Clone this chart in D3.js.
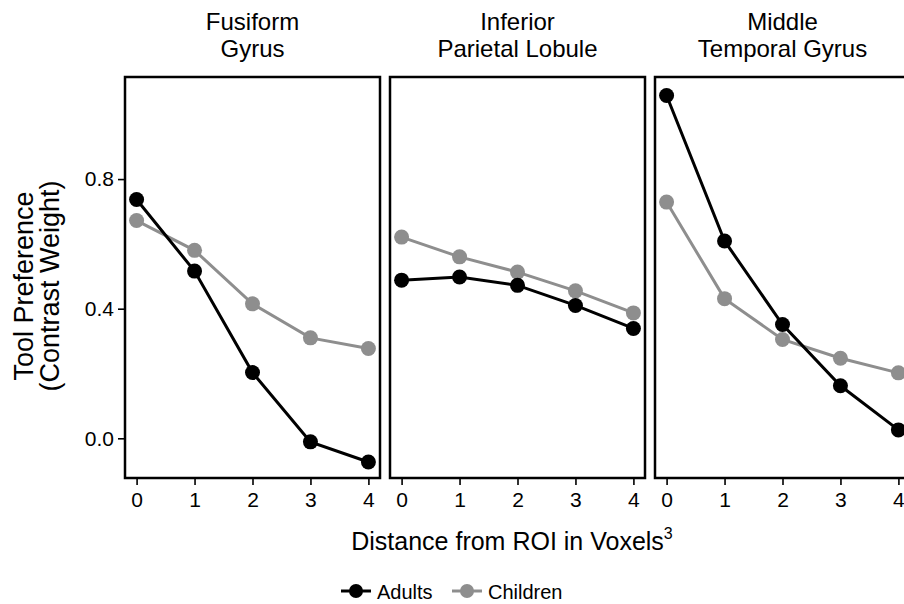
<!DOCTYPE html>
<html>
<head>
<meta charset="utf-8">
<script src="https://cdn.jsdelivr.net/npm/d3@7"></script>
<style>
  body { margin: 0; background: #fff; }
  svg { display: block; font-family: "Liberation Sans", Arial, sans-serif; }
</style>
</head>
<body>
<div id="vis"></div>
<script>
// data
const regions = [["Fusiform", "Gyrus"], ["Inferior", "Parietal Lobule"], ["Middle", "Temporal Gyrus"]];
const distances = [0, 1, 2, 3, 4];
const adults = [
  [0.737, 0.516, 0.203, -0.011, -0.073],
  [0.488, 0.498, 0.472, 0.410, 0.339],
  [1.058, 0.609, 0.351, 0.162, 0.026]
];
const children = [
  [0.672, 0.580, 0.415, 0.310, 0.277],
  [0.621, 0.560, 0.513, 0.455, 0.387],
  [0.729, 0.431, 0.305, 0.247, 0.202]
];
const yTicks = [0.0, 0.4, 0.8];
const groups = ["Adults", "Children"];
const colors = { Adults: "#000000", Children: "#8e8e8e" };

const W = 904, H = 604;
const panelW = 255, panelH = 401, panelTop = 77, panelLeft = 125, gap = 10;
const fontFam = "'Liberation Sans', Arial, sans-serif";

const svg = d3.select("#vis").append("svg")
  .attr("width", W).attr("height", H);
svg.append("rect").attr("width", W).attr("height", H).attr("fill", "#fff");

const x = d3.scaleLinear().domain([-0.2, 4.2]).range([0, panelW]);
const y = d3.scaleLinear().domain([-0.1225, 1.115]).range([panelH, 0]);

const line = d3.line().x((d, i) => x(distances[i])).y(d => y(d));

regions.forEach((title, p) => {
  const g = svg.append("g")
    .attr("transform", `translate(${panelLeft + p * (panelW + gap)}, ${panelTop})`);

  // panel title, two lines
  title.forEach((t, i) => {
    g.append("text")
      .attr("x", panelW / 2).attr("y", -47 + i * 27)
      .attr("text-anchor", "middle").attr("font-size", 24)
      .text(t);
  });

  const series = [
    { name: "Children", values: children[p] },
    { name: "Adults", values: adults[p] }
  ];
  series.forEach(s => {
    g.append("path")
      .attr("d", line(s.values))
      .attr("fill", "none")
      .attr("stroke", colors[s.name])
      .attr("stroke-width", 3);
    g.selectAll(null).data(s.values).enter().append("circle")
      .attr("cx", (d, i) => x(distances[i]))
      .attr("cy", d => y(d))
      .attr("r", 7.5)
      .attr("fill", colors[s.name]);
  });

  g.append("rect")
    .attr("width", panelW).attr("height", panelH)
    .attr("fill", "none").attr("stroke", "#000").attr("stroke-width", 2.5);

  // x axis
  const xAxis = g.append("g")
    .attr("transform", `translate(0, ${panelH + 1})`)
    .call(d3.axisBottom(x).tickValues(distances).tickSize(6).tickPadding(7).tickFormat(d3.format("d")));
  xAxis.select(".domain").remove();
  xAxis.selectAll("line").attr("stroke", "#000").attr("stroke-width", 1.6);
  xAxis.selectAll("text").attr("font-size", 21).attr("fill", "#000").attr("font-family", fontFam);

  if (p === 0) {
    const yAxis = g.append("g")
      .attr("transform", "translate(-1, 0)")
      .call(d3.axisLeft(y).tickValues(yTicks).tickSize(6).tickPadding(4).tickFormat(d3.format(".1f")));
    yAxis.select(".domain").remove();
    yAxis.selectAll("line").attr("stroke", "#000").attr("stroke-width", 1.6);
    yAxis.selectAll("text").attr("font-size", 21).attr("fill", "#000").attr("font-family", fontFam);
  }
});

// y axis title
const yTitle = svg.append("text")
  .attr("transform", "translate(0, 286) rotate(-90)")
  .attr("text-anchor", "middle").attr("font-size", 27);
yTitle.append("tspan").attr("x", 0).attr("y", 33).text("Tool Preference");
yTitle.append("tspan").attr("x", 0).attr("y", 59).text("(Contrast Weight)");

// x axis title
const xTitle = svg.append("text")
  .attr("x", 512).attr("y", 550)
  .attr("text-anchor", "middle").attr("font-size", 25);
xTitle.append("tspan").text("Distance from ROI in Voxels");
xTitle.append("tspan").attr("font-size", 16).attr("dy", -11).text("3");

// legend
const legend = svg.append("g").attr("transform", "translate(341, 591)");
const legendX = [0, 111];
groups.forEach((name, i) => {
  const lg = legend.append("g").attr("transform", `translate(${legendX[i]}, 0)`);
  lg.append("line").attr("x1", 0).attr("x2", 30).attr("y1", 0).attr("y2", 0)
    .attr("stroke", colors[name]).attr("stroke-width", 3);
  lg.append("circle").attr("cx", 15).attr("cy", 0).attr("r", 7).attr("fill", colors[name]);
  lg.append("text").attr("x", 36).attr("y", 7.5).attr("font-size", 20).text(name);
});
</script>
</body>
</html>
